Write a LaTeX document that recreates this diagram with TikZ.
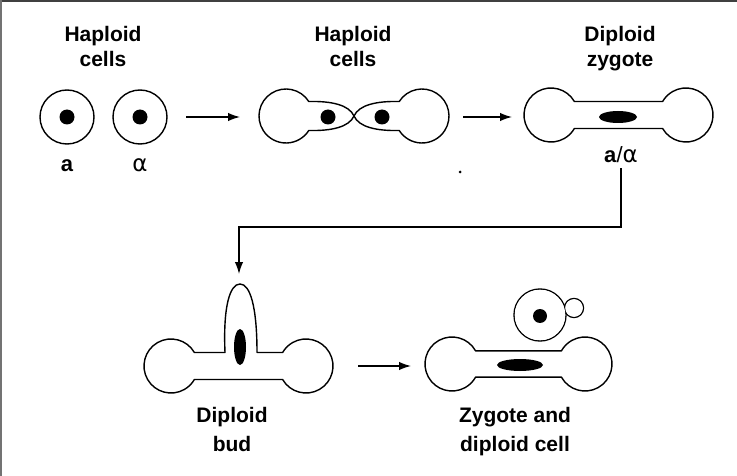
\documentclass[tikz,border=0pt]{standalone}
\usepackage{fontspec}
\setmainfont{Liberation Sans}
\newfontfamily\greekfont{DejaVu Sans}
\usetikzlibrary{arrows.meta,calc}

\begin{document}
\begin{tikzpicture}[x=1pt,y=1pt,
  outline/.style={line width=1.4pt, line join=round},
  nuc/.style={fill=black, draw=none},
  flow/.style={line width=1.4pt, -{Latex[length=12pt,width=8.5pt]}},
  title/.style={font=\fontsize{21}{25}\selectfont\bfseries, align=center, inner sep=0pt, anchor=base},
  title2/.style={title, font=\fontsize{21}{28.5}\selectfont\bfseries},
  letterlabel/.style={font=\fontsize{22}{24}\selectfont, inner sep=0pt, anchor=base},
  cell/.style={outline, draw, circle, minimum size=54pt, inner sep=0pt}
]
\useasboundingbox (0,0) rectangle (737,-476);

% frame lines
\draw[black!75, line width=2.5pt] (0,-1.25) -- (737,-1.25);
\draw[black!55, line width=1.5pt] (0.75,0) -- (0.75,-476);

% ---------- stage 1: two haploid cells ----------
\node[title] (t1) at (103,-67) {Haploid\\cells};
\node[cell] (ca) at (67,-117) {};
\node[cell] (cb) at (140,-117) {};
\fill[nuc] (ca.center) circle[radius=7.5];
\fill[nuc] (cb.center) circle[radius=7.5];
\node[letterlabel, font=\fontsize{22}{24}\selectfont\bfseries] (la) at (67,-172) {a};
\node[letterlabel, font=\fontsize{23}{25}\selectfont\greekfont] (lb) at (140,-172) {α};

\coordinate (a1s) at (186,-117);
\coordinate (a1e) at (240,-117);
\draw[flow] (a1s) -- (a1e);

% ---------- stage 2: mating pair ----------
\node[title] (t2) at (353,-67) {Haploid\\cells};
\draw[outline] (286,-116) ++(32.5:27) arc[start angle=32.5, end angle=327.5, radius=27]
  .. controls (332,-131) and (349,-127) .. (354,-116)
  .. controls (349,-105) and (332,-101) .. (308.8,-101.5) -- cycle;
\draw[outline] (422,-116) ++(147.5:27) arc[start angle=147.5, end angle=-147.5, radius=27]
  .. controls (376,-131) and (359,-127) .. (354,-116)
  .. controls (359,-105) and (376,-101) .. (399.2,-101.5) -- cycle;
\fill[nuc] (328,-117) circle[radius=7.5];
\fill[nuc] (382,-117) circle[radius=7.5];

\coordinate (a2s) at (463,-117);
\coordinate (a2e) at (512,-117);
\draw[flow] (a2s) -- (a2e);

\fill (460,-172) circle[radius=1.5];

% ---------- stage 3: diploid zygote ----------
\node[title] (t3) at (620,-67) {Diploid\\zygote};
\draw[outline] (551,-115) ++(30:27) arc[start angle=30, end angle=330, radius=27]
  -- ($(686,-115)+(210:27)$) arc[start angle=210, end angle=510, radius=27] -- cycle;
\fill[nuc] (618,-117) ellipse[x radius=19, y radius=6];
\node[letterlabel] (lab) at (621,-163) {\textbf{a}/{\greekfont\fontsize{23}{25}\selectfont α}};

\coordinate (turn) at (430,-227);
\coordinate (budin) at (239,-274);
\draw[flow, shorten <=5pt] (lab.south) |- (turn) -| (budin);

% ---------- stage 4: diploid bud ----------
\draw[outline] (171,-366) ++(30:27) arc[start angle=30, end angle=330, radius=27]
  -- ($(306,-366)+(210:27)$) arc[start angle=210, end angle=510, radius=27]
  -- (257,-352.5) .. controls (257,-306) and (250,-284) .. (240,-284)
  .. controls (230,-284) and (223,-306) .. (225,-352.5) -- cycle;
\fill[nuc] (240,-347) ellipse[x radius=6, y radius=18];
\node[title2] (t4) at (232,-451) {Diploid\\bud};

\coordinate (a3s) at (358,-366);
\coordinate (a3e) at (411,-366);
\draw[flow] (a3s) -- (a3e);

% ---------- stage 5: zygote with released diploid cell ----------
\draw[outline] (452,-364) ++(29:27) arc[start angle=29, end angle=331, radius=27]
  -- ($(585,-364)+(209:27)$) arc[start angle=209, end angle=511, radius=27] -- cycle;
\fill[nuc] (520,-365) ellipse[x radius=23, y radius=6];

% budding diploid cell: outline both circles, then clear the overlap
\draw[outline] (540,-315) circle[radius=26];
\draw[outline] (574,-308) circle[radius=9.5];
\fill[white] (540,-315) circle[radius=25.3];
\fill[white] (574,-308) circle[radius=8.8];
\fill[nuc] (540,-316) circle[radius=7];

\node[title2] (t5) at (515,-451) {Zygote and\\diploid cell};
\end{tikzpicture}
\end{document}
